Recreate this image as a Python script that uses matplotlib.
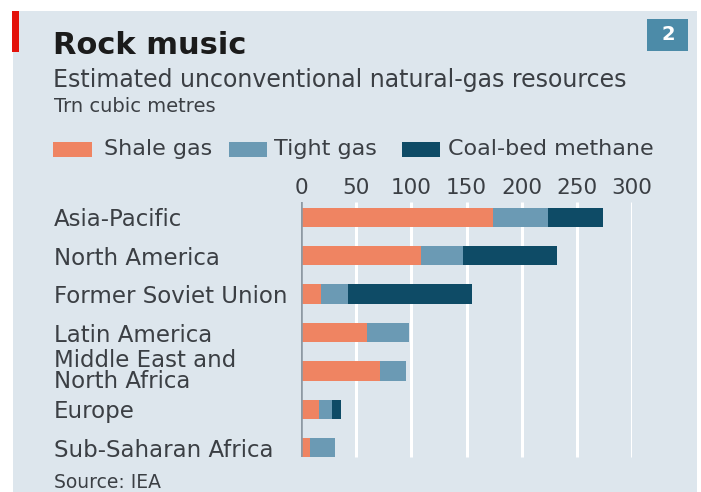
import matplotlib
matplotlib.use('Agg')
import matplotlib.pyplot as plt
import matplotlib.transforms as mtransforms
from matplotlib.patches import Rectangle

# Data (trn cubic metres)
regions = ['Asia-Pacific', 'North America', 'Former Soviet Union', 'Latin America',
           'Middle East and\nNorth Africa', 'Europe', 'Sub-Saharan Africa']
shale = [174, 109, 18, 60, 72, 16, 8]
tight = [50, 38, 25, 38, 23, 12, 23]
coalbed = [50, 85, 112, 0, 0, 8, 0]
series_names = ['Shale gas', 'Tight gas', 'Coal-bed methane']
ticks = [0, 50, 100, 150, 200, 250, 300]

c_shale = '#ef8462'
c_tight = '#6b9ab4'
c_cbm = '#0e4b66'
bg = '#dde6ed'
txt = '#3b3f44'

plt.rcParams['font.family'] = ['DejaVu Sans']

W, H = 701, 492
fig = plt.figure(figsize=(W / 100, H / 100), dpi=100, facecolor='white')


def fy(py):
    # pixel row from top -> figure fraction
    return 1 - py / H


# panel background, red tag and chart number box
fig.patches.append(Rectangle((13 / W, 0), 684 / W, fy(11), transform=fig.transFigure,
                             facecolor=bg, edgecolor='none', zorder=-5))
fig.patches.append(Rectangle((12 / W, fy(52)), 7 / W, 41 / H, transform=fig.transFigure,
                             facecolor='#e3120b', edgecolor='none', zorder=-4))
fig.patches.append(Rectangle((647 / W, fy(51)), 41 / W, 32 / H, transform=fig.transFigure,
                             facecolor='#4c8ba8', edgecolor='none', zorder=-4))
fig.text(668 / W, fy(35), '2', color='white', fontsize=14, fontweight='bold',
         ha='center', va='center')

fig.text(53 / W, fy(54), 'Rock music', fontsize=22, fontweight='bold',
         color='#1b1b1b', va='baseline')
fig.text(53 / W, fy(87), 'Estimated unconventional natural-gas resources',
         fontsize=17, color=txt, va='baseline')
fig.text(54 / W, fy(112), 'Trn cubic metres', fontsize=14, color=txt, va='baseline')
fig.text(54 / W, fy(488), 'Source: IEA', fontsize=13.5, color=txt, va='baseline')

# legend
leg_items = [(53, 92, 104, c_shale), (229, 267, 274, c_tight), (402, 440, 448, c_cbm)]
for (x0, x1, xt, col), name in zip(leg_items, series_names):
    fig.patches.append(Rectangle((x0 / W, fy(157)), (x1 - x0) / W, 15 / H,
                                 transform=fig.transFigure, facecolor=col, edgecolor='none'))
    fig.text(xt / W, fy(155), name, fontsize=16, color=txt, va='baseline')

ax = fig.add_axes([301 / W, fy(467), 331 / W, 269 / H])
ax.set_facecolor('none')
y = list(range(len(regions)))
left2 = [a + b for a, b in zip(shale, tight)]
ax.barh(y, shale, height=0.5, color=c_shale, zorder=3)
ax.barh(y, tight, left=shale, height=0.5, color=c_tight, zorder=3)
ax.barh(y, coalbed, left=left2, height=0.5, color=c_cbm, zorder=3)

ax.set_xlim(0, 300)
ax.set_ylim(len(regions) - 0.5, -0.5)
ax.set_xticks(ticks)
ax.xaxis.tick_top()
ax.tick_params(axis='x', length=0, labelsize=15.5, labelcolor=txt, pad=0)
ax.set_yticks([])
for s in ax.spines.values():
    s.set_visible(False)
top, bottom = -0.39, len(regions) - 0.75
ax.vlines(ticks[1:], top, bottom, color='white', linewidth=2.2, zorder=1)
ax.vlines([0], top, bottom, color='#8d99a3', linewidth=2.6, zorder=4)

trans = mtransforms.blended_transform_factory(fig.transFigure, ax.transData)
for i, name in enumerate(regions):
    ax.text(54 / W, i, name, transform=trans, fontsize=16.5, color=txt,
            va='center_baseline' if '\n' not in name else 'center', linespacing=0.9)

fig.savefig('out.png', dpi=100, facecolor='white')
